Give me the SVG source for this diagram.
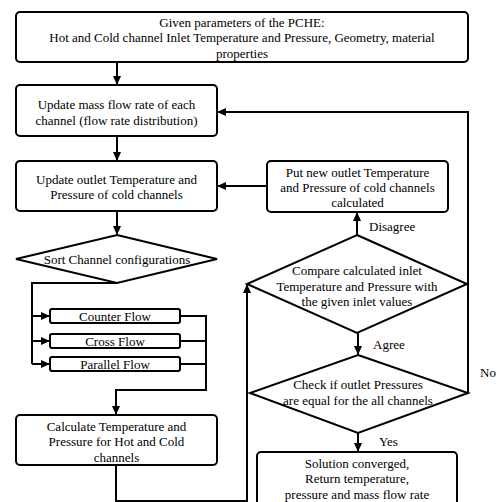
<svg xmlns="http://www.w3.org/2000/svg" width="497" height="502" viewBox="0 0 497 502">
<defs>
<marker id="ah" markerWidth="9" markerHeight="8" refX="8" refY="4" orient="auto" markerUnits="userSpaceOnUse">
<path d="M0,0 L9,4 L0,8 Z" fill="#000"/>
</marker>
<style>
.box{fill:#fff;stroke:#000;stroke-width:2}
.t{font-family:"Liberation Serif","Times New Roman",serif;font-size:13px;fill:#000;text-anchor:middle}
.l{font-family:"Liberation Serif","Times New Roman",serif;font-size:13px;fill:#000}
.c{fill:none;stroke:#000;stroke-width:2}
</style>
</defs>
<rect width="497" height="502" fill="#fff"/>
<g id="connectors">
<path class="c" d="M117,62 V84" marker-end="url(#ah)"/>
<path class="c" d="M117,136 V160" marker-end="url(#ah)"/>
<path class="c" d="M117,211 V234" marker-end="url(#ah)"/>
<path class="c" d="M117,283 H32 V364"/>
<path class="c" d="M32,316 H49" marker-end="url(#ah)"/>
<path class="c" d="M32,341 H49" marker-end="url(#ah)"/>
<path class="c" d="M32,364 H49" marker-end="url(#ah)"/>
<path class="c" d="M180,316 H206 V390 H116 V414" marker-end="url(#ah)"/>
<path class="c" d="M180,341 H206"/>
<path class="c" d="M180,364 H206"/>
<path class="c" d="M116,465 V501 H247 V285" marker-end="url(#ah)"/>
<path class="c" d="M357,235 V213" marker-end="url(#ah)"/>
<path class="c" d="M267,186 H218" marker-end="url(#ah)"/>
<path class="c" d="M358,333 V354" marker-end="url(#ah)"/>
<path class="c" d="M358,433 V451" marker-end="url(#ah)"/>
<path class="c" d="M468,393 V112 H218" marker-end="url(#ah)"/>
<text class="l" x="369" y="230.5">Disagree</text>
<text class="l" x="373" y="348.5">Agree</text>
<text class="l" x="379" y="445.5">Yes</text>
<text class="l" x="480" y="376.5">No</text>
</g>
<g id="n_given">
<rect class="box" x="16" y="12" width="452" height="50" rx="4"/>
<text class="t" x="242" y="26.5">Given parameters of the PCHE:</text>
<text class="t" x="242" y="42">Hot and Cold channel Inlet Temperature and Pressure, Geometry, material</text>
<text class="t" x="242" y="57.5">properties</text>
</g>
<g id="n_mass">
<rect class="box" x="16" y="85" width="201" height="51" rx="4"/>
<text class="t" x="116.5" y="108.5">Update mass flow rate of each</text>
<text class="t" x="116.5" y="124.5">channel (flow rate distribution)</text>
</g>
<g id="n_outlet">
<rect class="box" x="16" y="161" width="201" height="50" rx="4"/>
<text class="t" x="116.5" y="183.5">Update outlet Temperature and</text>
<text class="t" x="116.5" y="198.5">Pressure of cold channels</text>
</g>
<g id="n_sort">
<polygon class="box" points="117,235 217,259 117,283 16,259"/>
<text class="t" x="117" y="263.5">Sort Channel configurations</text>
</g>
<g id="n_counter">
<rect class="box" x="50" y="309" width="130" height="14" rx="2"/>
<text class="t" x="115" y="320.5">Counter Flow</text>
</g>
<g id="n_cross">
<rect class="box" x="50" y="334" width="130" height="14" rx="2"/>
<text class="t" x="115" y="345.5">Cross Flow</text>
</g>
<g id="n_parallel">
<rect class="box" x="50" y="357" width="130" height="14" rx="2"/>
<text class="t" x="115" y="368.5">Parallel Flow</text>
</g>
<g id="n_calc">
<rect class="box" x="16" y="415" width="201" height="50" rx="4"/>
<text class="t" x="116.5" y="430.5">Calculate Temperature and</text>
<text class="t" x="116.5" y="445.5">Pressure for Hot and Cold</text>
<text class="t" x="116.5" y="461.5">channels</text>
</g>
<g id="n_put">
<rect class="box" x="267" y="161" width="181" height="51" rx="4"/>
<text class="t" x="357.5" y="176.5">Put new outlet Temperature</text>
<text class="t" x="357.5" y="191.5">and Pressure of cold channels</text>
<text class="t" x="357.5" y="206.5">calculated</text>
</g>
<g id="n_compare">
<polygon class="box" points="357,235 467,284 357,333 247,284"/>
<text class="t" x="357" y="274.5">Compare calculated inlet</text>
<text class="t" x="357" y="290.5">Temperature and Pressure with</text>
<text class="t" x="357" y="305.5">the given inlet values</text>
</g>
<g id="n_check">
<polygon class="box" points="358,355 468,393 358,433 250,393"/>
<text class="t" x="358" y="388.5">Check if outlet Pressures</text>
<text class="t" x="358" y="404.5">are equal for the all channels</text>
</g>
<g id="n_done">
<rect class="box" x="257" y="452" width="200" height="60" rx="4"/>
<text class="t" x="357" y="467.5">Solution converged,</text>
<text class="t" x="357" y="482.5">Return temperature,</text>
<text class="t" x="357" y="498.5">pressure and mass flow rate</text>
</g>
</svg>
